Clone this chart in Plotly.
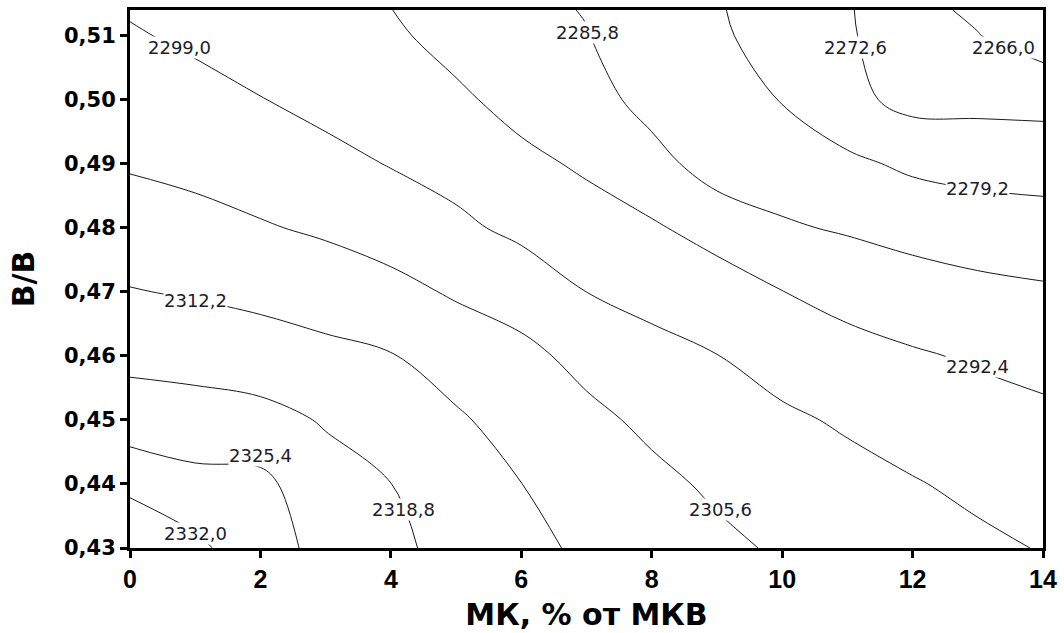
import plotly.graph_objects as go

# Grid of the response surface: МК content (x) vs В/В ratio (y)
mk = [0, 1, 2, 3, 4, 5, 6, 7, 8, 9, 10, 11, 12, 13, 14]
vv = [0.43, 0.44, 0.45, 0.46, 0.47, 0.48, 0.49, 0.50, 0.51, 0.514]

z_043 = [2338.9, 2333.5, 2327.8, 2323.75, 2320.05, 2317.0, 2313.7, 2311.27, 2309.0, 2306.8, 2304.9, 2303.35, 2301.8, 2300.2, 2298.7]
z_044 = [2330.1, 2327.25, 2327.0, 2321.1, 2318.85, 2315.0, 2312.25, 2309.1, 2306.96, 2304.7, 2302.4, 2300.9, 2299.4, 2297.7, 2296.2]
z_045 = [2322.0, 2321.6, 2320.8, 2318.3, 2315.6, 2313.0, 2309.7, 2307.0, 2304.4, 2301.9, 2300.0, 2298.25, 2296.3, 2294.8, 2293.7]
z_046 = [2317.2, 2316.4, 2315.3, 2313.8, 2312.5, 2309.4, 2307.1, 2303.9, 2300.9, 2299.1, 2296.6, 2294.6, 2293.05, 2291.7, 2290.5]
z_047 = [2312.5, 2311.6, 2310.5, 2309.15, 2307.4, 2304.9, 2302.96, 2298.98, 2297.1, 2295.2, 2292.5, 2290.3, 2288.6, 2287.4, 2286.6]
z_048 = [2308.6, 2307.5, 2306.1, 2304.7, 2302.8, 2300.3, 2297.5, 2295.07, 2293.1, 2290.2, 2286.5, 2285.15, 2283.7, 2282.56, 2281.8]
z_049 = [2305.03, 2304.0, 2302.6, 2300.9, 2298.7, 2296.7, 2293.9, 2291.5, 2288.3, 2282.56, 2282.6, 2280.5, 2278.04, 2276.9, 2276.5]
z_050 = [2302.3, 2300.96, 2299.2, 2297.1, 2296.1, 2293.5, 2290.3, 2288.8, 2283.3, 2281.6, 2278.97, 2274.4, 2270.6, 2270.8, 2270.6]
z_051 = [2299.59, 2297.9, 2295.85, 2294.4, 2293.4, 2290.3, 2288.2, 2286.03, 2282.0, 2280.6, 2275.35, 2273.4, 2268.3, 2266.2, 2262.65]
z_0514 = [2298.5, 2296.7, 2294.5, 2293.6, 2292.5, 2289.0, 2287.4, 2285.5, 2281.3, 2280.1, 2273.9, 2273.2, 2267.6, 2265.0, 2259.7]

z_rows = [z_043, z_044, z_045, z_046, z_047, z_048, z_049, z_050, z_051, z_0514]

# Isoline levels
levels = [2266.0, 2272.6, 2279.2, 2285.8, 2292.4, 2299.0, 2305.6, 2312.2, 2318.8, 2325.4, 2332.0]

x_ticks = [0, 2, 4, 6, 8, 10, 12, 14]
y_ticks = [0.43, 0.44, 0.45, 0.46, 0.47, 0.48, 0.49, 0.50, 0.51]

# Where each isoline label sits (level, x, y)
label_spots = [
    (2299.0, 0.765, 0.5082),
    (2285.8, 7.01, 0.5105),
    (2272.6, 11.13, 0.5082),
    (2266.0, 13.39, 0.5082),
    (2279.2, 12.99, 0.4862),
    (2292.4, 12.99, 0.4584),
    (2305.6, 9.06, 0.4360),
    (2318.8, 4.19, 0.4360),
    (2312.2, 1.01, 0.4687),
    (2325.4, 2.00, 0.4445),
    (2332.0, 1.01, 0.4323),
]

step = round(levels[1] - levels[0], 6)

fig = go.Figure(
    go.Contour(
        x=mk,
        y=vv,
        z=z_rows,
        contours=dict(start=levels[0], end=levels[-1], size=step,
                      coloring="none", showlabels=False),
        line=dict(color="#1a1a1a", width=1, smoothing=1),
        showscale=False,
        hoverinfo="skip",
    )
)

def fmt(v):
    return f"{v:.1f}".replace(".", ",")

for lvl, lx, ly in label_spots:
    fig.add_annotation(
        x=lx, y=ly, xref="x", yref="y",
        text=fmt(lvl), showarrow=False,
        font=dict(family="DejaVu Sans", size=18, color="#1c1c2c"),
        bgcolor="white", borderpad=0,
    )

axis_common = dict(
    showline=True, linecolor="black", linewidth=3, mirror=True,
    ticks="outside", ticklen=7, tickwidth=3, tickcolor="black",
    showgrid=False, zeroline=False,
)

fig.update_layout(
    width=1064, height=633,
    margin=dict(l=130, r=19, t=7, b=82),
    paper_bgcolor="white", plot_bgcolor="white",
    separators=", ",
    showlegend=False,
    xaxis=dict(
        range=[0, 14], tickvals=x_ticks,
        tickfont=dict(family="Liberation Sans", size=25, color="black", weight="bold"),
        title=dict(text="МК, % от МКВ", standoff=12,
                   font=dict(family="DejaVu Sans", size=30, color="black", weight="bold")),
        **axis_common,
    ),
    yaxis=dict(
        range=[0.43, 0.514], tickvals=y_ticks, tickformat=".2f",
        tickfont=dict(family="DejaVu Sans", size=21, color="black", weight="bold"),
        title=dict(text="В/В", standoff=21,
                   font=dict(family="DejaVu Sans", size=30, color="black", weight="bold")),
        **axis_common,
    ),
)

fig.write_html("out.html")
